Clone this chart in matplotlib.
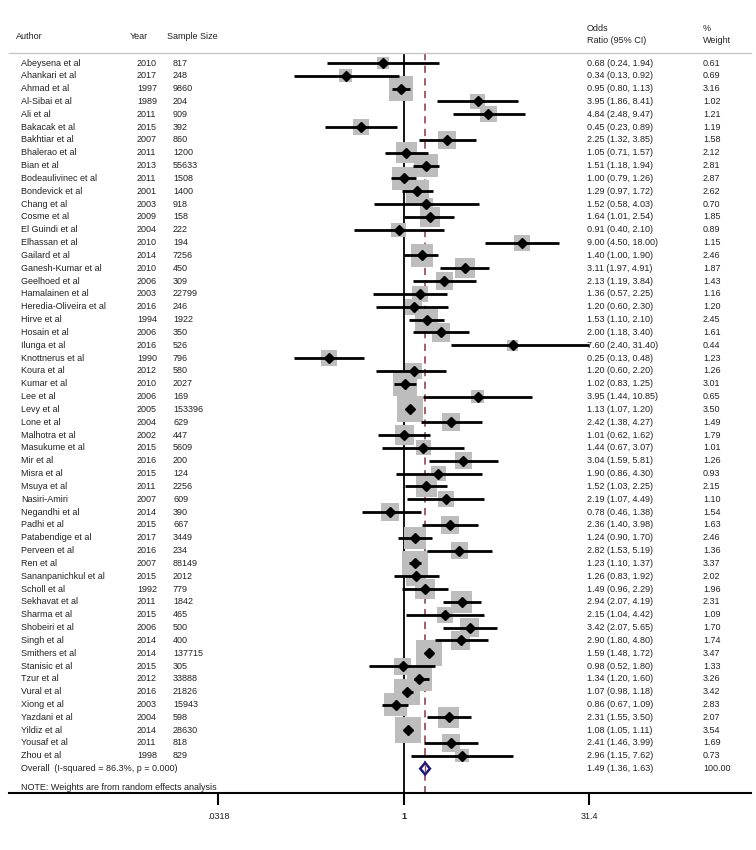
import matplotlib
matplotlib.use('Agg')
import matplotlib.pyplot as plt
import matplotlib.transforms as mtransforms
import numpy as np

authors = ['Abeysena et al', 'Ahankari et al', 'Ahmad et al', 'Al-Sibai et al', 'Ali et al',
           'Bakacak et al', 'Bakhtiar et al', 'Bhalerao et al', 'Bian et al', 'Bodeaulivinec et al',
           'Bondevick et al', 'Chang et al', 'Cosme et al', 'El Guindi et al', 'Elhassan et al',
           'Gailard et al', 'Ganesh-Kumar et al', 'Geelhoed et al', 'Hamalainen et al',
           'Heredia-Oliveira et al', 'Hirve et al', 'Hosain et al', 'Ilunga et al',
           'Knottnerus et al', 'Koura et al', 'Kumar et al', 'Lee et al', 'Levy et al', 'Lone et al',
           'Malhotra et al', 'Masukume et al', 'Mir et al', 'Misra et al', 'Msuya et al',
           'Nasiri-Amiri', 'Negandhi et al', 'Padhi et al', 'Patabendige et al', 'Perveen et al',
           'Ren et al', 'Sananpanichkul et al', 'Scholl et al', 'Sekhavat et al', 'Sharma et al',
           'Shobeiri et al', 'Singh et al', 'Smithers et al', 'Stanisic et al', 'Tzur et al',
           'Vural et al', 'Xiong et al', 'Yazdani et al', 'Yildiz et al', 'Yousaf et al', 'Zhou et al']
years = [2010, 2017, 1997, 1989, 2011, 2015, 2007, 2011, 2013, 2011, 2001, 2003, 2009, 2004, 2010,
         2014, 2010, 2006, 2003, 2016, 1994, 2006, 2016, 1990, 2012, 2010, 2006, 2005, 2004, 2002,
         2015, 2016, 2015, 2011, 2007, 2014, 2015, 2017, 2016, 2007, 2015, 1992, 2011, 2015, 2006,
         2014, 2014, 2015, 2012, 2016, 2003, 2004, 2014, 2011, 1998]
sample_size = [817, 248, 9860, 204, 909, 392, 860, 1200, 55633, 1508, 1400, 918, 158, 222, 194,
               7256, 450, 309, 22799, 246, 1922, 350, 526, 796, 580, 2027, 169, 153396, 629, 447,
               5609, 200, 124, 2256, 609, 390, 667, 3449, 234, 88149, 2012, 779, 1842, 465, 500,
               400, 137715, 305, 33888, 21826, 15943, 598, 28630, 818, 829]
odds = [0.68, 0.34, 0.95, 3.95, 4.84, 0.45, 2.25, 1.05, 1.51, 1.00, 1.29, 1.52, 1.64, 0.91, 9.00,
        1.40, 3.11, 2.13, 1.36, 1.20, 1.53, 2.00, 7.60, 0.25, 1.20, 1.02, 3.95, 1.13, 2.42, 1.01,
        1.44, 3.04, 1.90, 1.52, 2.19, 0.78, 2.36, 1.24, 2.82, 1.23, 1.26, 1.49, 2.94, 2.15, 3.42,
        2.90, 1.59, 0.98, 1.34, 1.07, 0.86, 2.31, 1.08, 2.41, 2.96]
ci_low = [0.24, 0.13, 0.80, 1.86, 2.48, 0.23, 1.32, 0.71, 1.18, 0.79, 0.97, 0.58, 1.01, 0.40, 4.50,
          1.00, 1.97, 1.19, 0.57, 0.60, 1.10, 1.18, 2.40, 0.13, 0.60, 0.83, 1.44, 1.07, 1.38, 0.62,
          0.67, 1.59, 0.86, 1.03, 1.07, 0.46, 1.40, 0.90, 1.53, 1.10, 0.83, 0.96, 2.07, 1.04, 2.07,
          1.80, 1.48, 0.52, 1.20, 0.98, 0.67, 1.55, 1.05, 1.46, 1.15]
ci_high = [1.94, 0.92, 1.13, 8.41, 9.47, 0.89, 3.85, 1.57, 1.94, 1.26, 1.72, 4.03, 2.54, 2.10, 18.00,
           1.90, 4.91, 3.84, 2.25, 2.30, 2.10, 3.40, 31.40, 0.48, 2.20, 1.25, 10.85, 1.20, 4.27, 1.62,
           3.07, 5.81, 4.30, 2.25, 4.49, 1.38, 3.98, 1.70, 5.19, 1.37, 1.92, 2.29, 4.19, 4.42, 5.65,
           4.80, 1.72, 1.80, 1.60, 1.18, 1.09, 3.50, 1.11, 3.99, 7.62]
weights = [0.61, 0.69, 3.16, 1.02, 1.21, 1.19, 1.58, 2.12, 2.81, 2.87, 2.62, 0.70, 1.85, 0.89, 1.15,
           2.46, 1.87, 1.43, 1.16, 1.20, 2.45, 1.61, 0.44, 1.23, 1.26, 3.01, 0.65, 3.50, 1.49, 1.79,
           1.01, 1.26, 0.93, 2.15, 1.10, 1.54, 1.63, 2.46, 1.36, 3.37, 2.02, 1.96, 2.31, 1.09, 1.70,
           1.74, 3.47, 1.33, 3.26, 3.42, 2.83, 2.07, 3.54, 1.69, 0.73]

overall_label = 'Overall  (I-squared = 86.3%, p = 0.000)'
overall_or, overall_lo, overall_hi = 1.49, 1.36, 1.63
overall_weight = 100.00
tick_values = [0.0318, 1, 31.4]
tick_labels = ['.0318', '1', '31.4']

W, H = 756, 850
FS = 6.5
TXT = '#222222'

plt.rcParams['font.family'] = ['Liberation Sans', 'DejaVu Sans']


def fx(px):
    return px / W


fig = plt.figure(figsize=(W / 100, H / 100), dpi=100)
ax = fig.add_axes([fx(9), (H - 793) / H, fx(751 - 9), 793 / H])
ax.set_xscale('log')
ax.set_xlim(10 ** (-3.189), 10 ** 2.806)
row0, step = 63, 12.83
ax.set_ylim(1 + (793 - row0) / step, 1 + (0 - row0) / step)

n = len(authors)
rows = np.arange(1, n + 1)
overall_row = n + 1

# reference lines
ax.vlines(1, 0.2, 60, color='black', lw=1.3, zorder=1)
ax.vlines(overall_or, 0.2, 60, color='#a0505e', lw=1.3, linestyles=(0, (4, 3)), zorder=1)

# weight boxes
side_px = 2.6 + 12.5 * np.sqrt(np.array(weights))
ax.scatter(odds, rows, marker='s', s=(side_px * 0.72) ** 2, color='#bdbdbd', linewidths=0, zorder=2)
ax.hlines(rows, ci_low, ci_high, color='black', lw=2.0, zorder=3)
ax.plot(odds, rows, 'D', ms=4.8, color='black', zorder=4)

# overall diamond
h = 0.45
ax.fill([overall_lo, overall_or, overall_hi, overall_or],
        [overall_row, overall_row - h, overall_row, overall_row + h],
        facecolor='white', edgecolor='#1a1a7a', lw=1.8, zorder=3)
ax.vlines(overall_or, overall_row - h * 0.6, overall_row + h * 0.6, color='#a0505e', lw=1.0, zorder=4)

# axes styling
for s in ['top', 'left', 'right']:
    ax.spines[s].set_visible(False)
ax.spines['bottom'].set_linewidth(1.5)
ax.set_yticks([])
ax.set_xticks(tick_values)
ax.set_xticklabels(tick_labels)
ax.minorticks_off()
ax.tick_params(axis='x', length=8.5, width=1.5, labelsize=FS, pad=5, labelcolor=TXT)
ax.get_xticklabels()[1].set_fontweight('bold')
ax.patch.set_visible(False)

trans = mtransforms.blended_transform_factory(fig.transFigure, ax.transData)

# header
hdr_author = 1 + (36.5 - row0) / step
hdr_top = 1 + (28 - row0) / step
hdr_bot = 1 + (40 - row0) / step
ax.text(fx(16), hdr_author, 'Author', transform=trans, fontsize=FS, va='center', color=TXT)
ax.text(fx(130), hdr_author, 'Year', transform=trans, fontsize=FS, va='center', color=TXT)
ax.text(fx(167), hdr_author, 'Sample Size', transform=trans, fontsize=FS, va='center', color=TXT)
ax.text(fx(587), hdr_top, 'Odds', transform=trans, fontsize=FS, va='center', color=TXT)
ax.text(fx(587), hdr_bot, 'Ratio (95% CI)', transform=trans, fontsize=FS, va='center', color=TXT)
ax.text(fx(703), hdr_top, '%', transform=trans, fontsize=FS, va='center', color=TXT)
ax.text(fx(703), hdr_bot, 'Weight', transform=trans, fontsize=FS, va='center', color=TXT)
ax.plot([fx(9), fx(751)], [1 + (53.3 - row0) / step] * 2, transform=trans, color='#c8c8c8',
        lw=1.0, clip_on=False)

# study rows
for i in range(n):
    r = rows[i]
    ax.text(fx(21), r, authors[i], transform=trans, fontsize=FS, va='center', color=TXT)
    ax.text(fx(137), r, str(years[i]), transform=trans, fontsize=FS, va='center', color=TXT)
    ax.text(fx(173), r, str(sample_size[i]), transform=trans, fontsize=FS, va='center', color=TXT)
    ax.text(fx(587), r, '%.2f (%.2f, %.2f)' % (odds[i], ci_low[i], ci_high[i]), transform=trans,
            fontsize=FS, va='center', color=TXT)
    ax.text(fx(703), r, '%.2f' % weights[i], transform=trans, fontsize=FS, va='center', color=TXT)

ax.text(fx(21), overall_row, overall_label, transform=trans, fontsize=FS, va='center', color=TXT)
ax.text(fx(587), overall_row, '%.2f (%.2f, %.2f)' % (overall_or, overall_lo, overall_hi),
        transform=trans, fontsize=FS, va='center', color=TXT)
ax.text(fx(703), overall_row, '%.2f' % overall_weight, transform=trans, fontsize=FS, va='center',
        color=TXT)
ax.text(fx(21), 1 + (787.7 - row0) / step, 'NOTE: Weights are from random effects analysis',
        transform=trans, fontsize=FS, va='center', color=TXT)

fig.savefig('out.png', dpi=100)
